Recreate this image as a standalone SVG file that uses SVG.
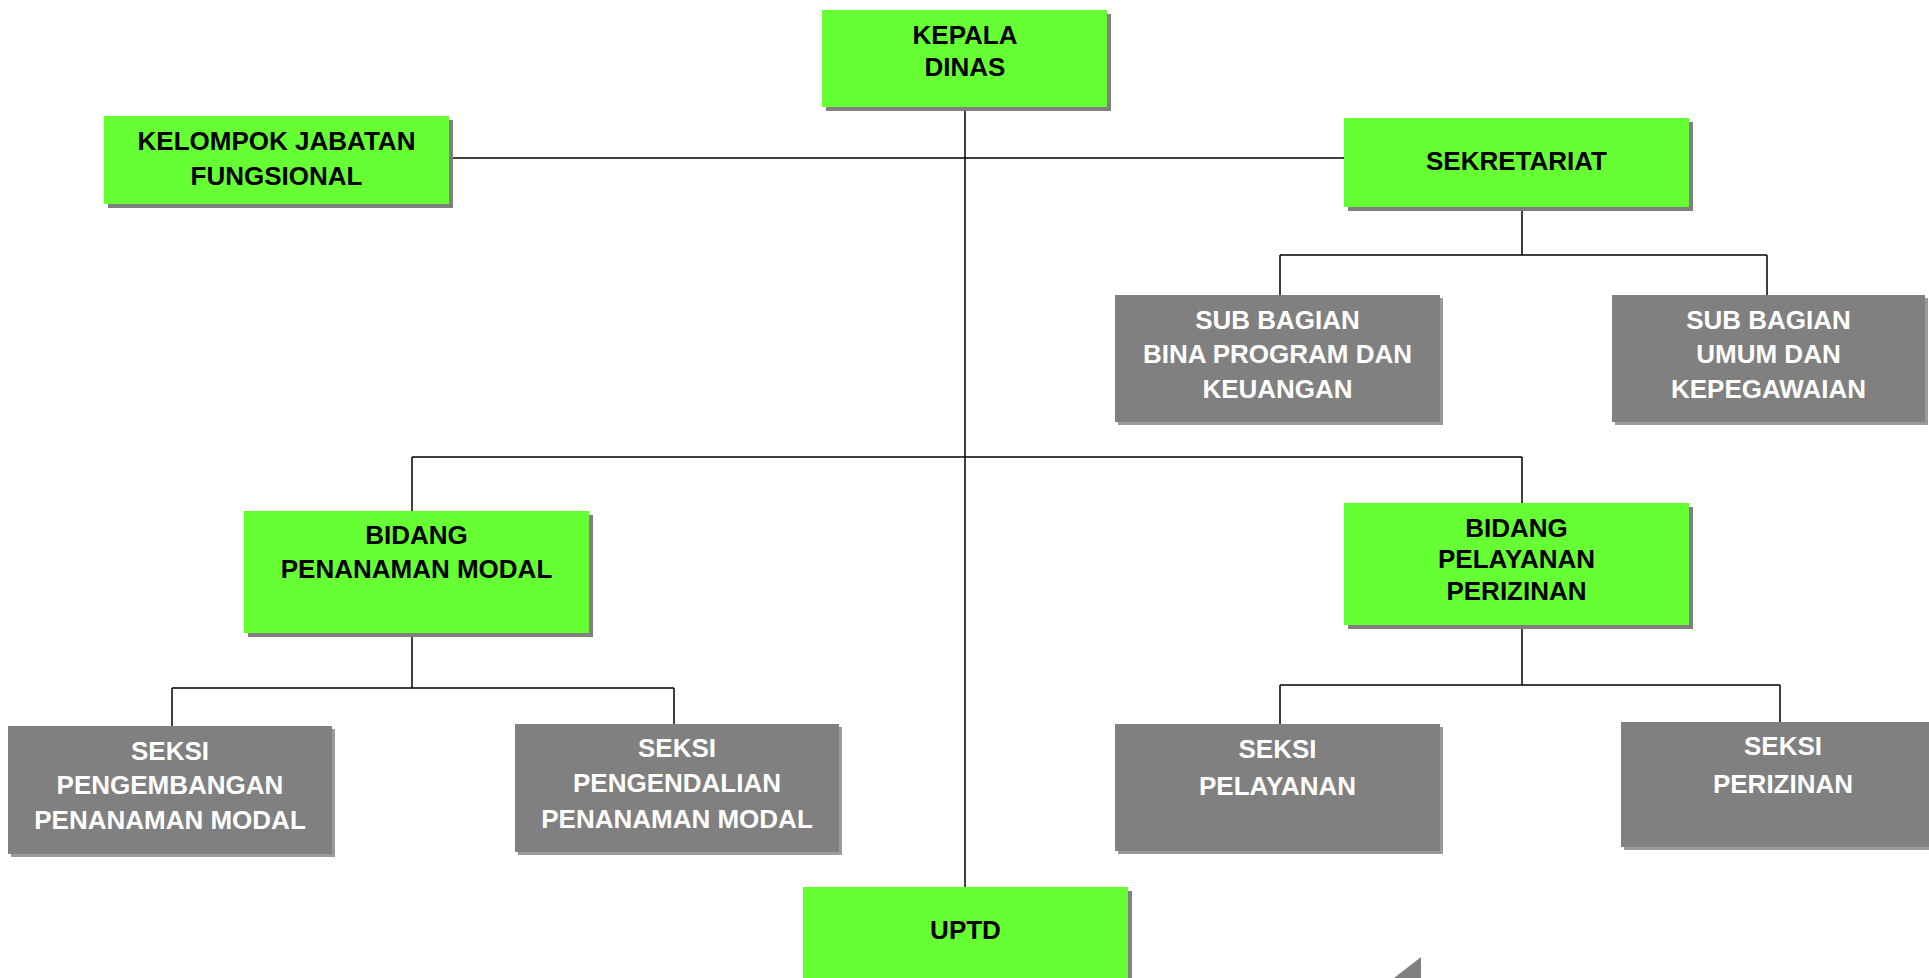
<svg xmlns="http://www.w3.org/2000/svg" width="1929" height="978" viewBox="0 0 1929 978">
<style>
.g{fill:#66ff33}
.s{fill:#808080}
.gr{fill:#808080}
.t{font-family:"Liberation Sans",Arial,sans-serif;font-weight:bold;font-size:26px;text-anchor:middle}
.tb{fill:#000}
.tw{fill:#fff}
.c{stroke:#000;stroke-width:1.5;fill:none}
</style>
<rect width="1929" height="978" fill="#fff"/>
<g id="connectors">
<path class="c" d="M965 107V887"/>
<path class="c" d="M449 158H1344"/>
<path class="c" d="M1522 207V255M1280 255H1767M1280 255V295M1767 255V295"/>
<path class="c" d="M412 457H1522M412 457V511M1522 457V503"/>
<path class="c" d="M412 633V688M172 688H674M172 688V726M674 688V724"/>
<path class="c" d="M1522 625V685M1280 685H1780M1280 685V724M1780 685V722"/>
</g>
<g id="kepala-dinas">
<rect class="s" x="826" y="14" width="285" height="97"/>
<rect class="g" x="822" y="10" width="285" height="97"/>
<text class="t tb" x="965" y="44">KEPALA</text>
<text class="t tb" x="965" y="76">DINAS</text>
</g>
<g id="kelompok-jabatan-fungsional">
<rect class="s" x="108" y="120" width="345" height="88"/>
<rect class="g" x="104" y="116" width="345" height="88"/>
<text class="t tb" x="276.5" y="150">KELOMPOK JABATAN</text>
<text class="t tb" x="276.5" y="185">FUNGSIONAL</text>
</g>
<g id="sekretariat">
<rect class="s" x="1348" y="122" width="345" height="89"/>
<rect class="g" x="1344" y="118" width="345" height="89"/>
<text class="t tb" x="1516.5" y="170">SEKRETARIAT</text>
</g>
<g id="sub-bagian-bina-program">
<rect fill="#9a9a9a" x="1118" y="298" width="325" height="127"/>
<rect class="gr" x="1115" y="295" width="325" height="127"/>
<text class="t tw" x="1277.5" y="329">SUB BAGIAN</text>
<text class="t tw" x="1277.5" y="363">BINA PROGRAM DAN</text>
<text class="t tw" x="1277.5" y="398">KEUANGAN</text>
</g>
<g id="sub-bagian-umum">
<rect fill="#9a9a9a" x="1615" y="298" width="313" height="127"/>
<rect class="gr" x="1612" y="295" width="313" height="127"/>
<text class="t tw" x="1768.5" y="329">SUB BAGIAN</text>
<text class="t tw" x="1768.5" y="363">UMUM DAN</text>
<text class="t tw" x="1768.5" y="398">KEPEGAWAIAN</text>
</g>
<g id="bidang-penanaman-modal">
<rect class="s" x="248" y="515" width="345" height="122"/>
<rect class="g" x="244" y="511" width="345" height="122"/>
<text class="t tb" x="416.5" y="544">BIDANG</text>
<text class="t tb" x="416.5" y="578">PENANAMAN MODAL</text>
</g>
<g id="bidang-pelayanan-perizinan">
<rect class="s" x="1348" y="507" width="345" height="122"/>
<rect class="g" x="1344" y="503" width="345" height="122"/>
<text class="t tb" x="1516.5" y="537">BIDANG</text>
<text class="t tb" x="1516.5" y="568">PELAYANAN</text>
<text class="t tb" x="1516.5" y="600">PERIZINAN</text>
</g>
<g id="seksi-pengembangan">
<rect fill="#9a9a9a" x="11" y="729" width="324" height="128"/>
<rect class="gr" x="8" y="726" width="324" height="128"/>
<text class="t tw" x="170" y="760">SEKSI</text>
<text class="t tw" x="170" y="794">PENGEMBANGAN</text>
<text class="t tw" x="170" y="829">PENANAMAN MODAL</text>
</g>
<g id="seksi-pengendalian">
<rect fill="#9a9a9a" x="518" y="727" width="324" height="128"/>
<rect class="gr" x="515" y="724" width="324" height="128"/>
<text class="t tw" x="677" y="757">SEKSI</text>
<text class="t tw" x="677" y="792">PENGENDALIAN</text>
<text class="t tw" x="677" y="828">PENANAMAN MODAL</text>
</g>
<g id="seksi-pelayanan">
<rect fill="#9a9a9a" x="1118" y="727" width="325" height="127"/>
<rect class="gr" x="1115" y="724" width="325" height="127"/>
<text class="t tw" x="1277.5" y="758">SEKSI</text>
<text class="t tw" x="1277.5" y="795">PELAYANAN</text>
</g>
<g id="seksi-perizinan">
<rect fill="#9a9a9a" x="1624" y="725" width="324" height="125"/>
<rect class="gr" x="1621" y="722" width="324" height="125"/>
<text class="t tw" x="1783" y="755">SEKSI</text>
<text class="t tw" x="1783" y="793">PERIZINAN</text>
</g>
<g id="uptd">
<rect class="s" x="807" y="891" width="325" height="110"/>
<rect class="g" x="803" y="887" width="325" height="110"/>
<text class="t tb" x="965.5" y="939">UPTD</text>
</g>
<polygon fill="#808080" points="1421,957 1421,978 1394,978"/>
</svg>
